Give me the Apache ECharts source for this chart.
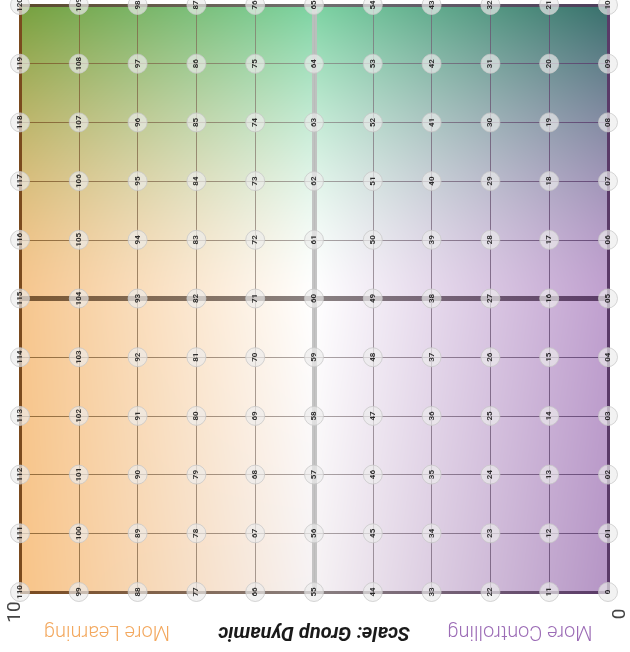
<!DOCTYPE html>
<html><head><meta charset="utf-8">
<script src="https://cdn.jsdelivr.net/npm/echarts@6/dist/echarts.min.js"></script>
<style>html,body{margin:0;padding:0;background:#fff}#c{width:630px;height:652px}</style>
</head><body><div id="c"></div>
<script>
// Scale values along each axis (0..10)
const xLevels = [0,1,2,3,4,5,6,7,8,9,10];
const yLevels = [0,1,2,3,4,5,6,7,8,9,10];
// Point labels, rows from y=10 (top) to y=0, columns from x=10 to x=0
const labelRows = [
  ['120','109','98','87','76','65','54','43','32','21','10'],
  ['119','108','97','86','75','64','53','42','31','20','09'],
  ['118','107','96','85','74','63','52','41','30','19','08'],
  ['117','106','95','84','73','62','51','40','29','18','07'],
  ['116','105','94','83','72','61','50','39','28','17','06'],
  ['115','104','93','82','71','60','49','38','27','16','05'],
  ['114','103','92','81','70','59','48','37','26','15','04'],
  ['113','102','91','80','69','58','47','36','25','14','03'],
  ['112','101','90','79','68','57','46','35','24','13','02'],
  ['111','100','89','78','67','56','45','34','23','12','01'],
  ['110','99','88','77','66','55','44','33','22','11','0']
];
const axisEndLabels = ['0','10'];
const titleText = 'Scale: Group Dynamic';
const leftPole = 'More Learning';
const rightPole = 'More Controlling';
const midValue = 5;

const points = [];
labelRows.forEach((row, r) => {
  row.forEach((lab, c) => {
    points.push([xLevels[xLevels.length - 1 - c], yLevels[yLevels.length - 1 - r], lab]);
  });
});

// background colour field (3x3 control colours, picture order)
const ctrl = [
  [[118,160,62],[124,211,162],[56,112,108]],
  [[246,198,142],[255,255,255],[192,160,207]],
  [[248,196,136],[246,242,244],[181,149,197]]
];
function makeBg(w, h) {
  const cv = document.createElement('canvas'); cv.width = w; cv.height = h;
  const ctx = cv.getContext('2d'); const img = ctx.createImageData(w, h);
  for (let y = 0; y < h; y++) {
    const v = y / (h - 1) * 2; const j = Math.min(Math.floor(v), 1); let fv = v - j;
    if (j === 0) fv = 1 - Math.pow(1 - fv, 1.6);
    for (let x = 0; x < w; x++) {
      const u = x / (w - 1) * 2; const i = Math.min(Math.floor(u), 1); const fu = u - i;
      const k = (y * w + x) * 4;
      for (let ch = 0; ch < 3; ch++) {
        const a = ctrl[j][i][ch] * (1 - fu) + ctrl[j][i + 1][ch] * fu;
        const b = ctrl[j + 1][i][ch] * (1 - fu) + ctrl[j + 1][i + 1][ch] * fu;
        img.data[k + ch] = Math.round(a * (1 - fv) + b * fv);
      }
      img.data[k + 3] = 255;
    }
  }
  ctx.putImageData(img, 0, 0);
  return cv;
}

const G = echarts.graphic;
const L = 20, R = 608, T = 5, B = 592;
const gridGrad = new G.LinearGradient(L, 0, R, 0, [
  {offset: 0, color: 'rgba(125,85,35,0.8)'},
  {offset: 0.5, color: 'rgba(130,120,120,0.65)'},
  {offset: 1, color: 'rgba(90,60,110,0.85)'}
], true);
const midGrad = new G.LinearGradient(L, 0, R, 0, [
  {offset: 0, color: '#7a5630'},
  {offset: 0.5, color: '#8a8282'},
  {offset: 1, color: '#5a3a66'}
], true);
const bottomGrad = new G.LinearGradient(L, 0, R, 0, [
  {offset: 0, color: '#7a4a1e'},
  {offset: 0.5, color: '#8a8080'},
  {offset: 1, color: '#5a3a68'}
], true);
const topGrad = new G.LinearGradient(L, 0, R, 0, [
  {offset: 0, color: '#5c4a2c'},
  {offset: 0.5, color: '#707070'},
  {offset: 1, color: '#4c3c5a'}
], true);

const chart = echarts.init(document.getElementById('c'));
chart.setOption({
  animation: false,
  grid: {left: L, right: 630 - R, top: T, bottom: 652 - B},
  xAxis: {type: 'value', min: xLevels[0], max: xLevels[xLevels.length - 1], interval: 1, inverse: true,
    axisLine: {show: false}, axisTick: {show: false}, axisLabel: {show: false},
    splitLine: {show: true, lineStyle: {color: gridGrad, width: 1}}},
  yAxis: {type: 'value', min: yLevels[0], max: yLevels[yLevels.length - 1], interval: 1,
    axisLine: {show: false}, axisTick: {show: false}, axisLabel: {show: false},
    splitLine: {show: true, lineStyle: {color: gridGrad, width: 1}}},
  graphic: [
    {type: 'image', left: L, top: T, z: -10, style: {image: makeBg(R - L, B - T), width: R - L, height: B - T}},
    {type: 'text', x: 314, y: 632, rotation: Math.PI, z: 10,
      style: {text: titleText, font: 'italic bold 20px Roboto', fill: '#1a1a1a', textAlign: 'center', textVerticalAlign: 'middle'}},
    {type: 'text', x: 107, y: 631, rotation: Math.PI, z: 10,
      style: {text: leftPole, font: '300 20px Roboto', fill: '#f3a85e', textAlign: 'center', textVerticalAlign: 'middle'}},
    {type: 'text', x: 520, y: 631, rotation: Math.PI, z: 10,
      style: {text: rightPole, font: '300 20px Roboto', fill: '#9c6cb6', textAlign: 'center', textVerticalAlign: 'middle'}},
    {type: 'text', x: 620, y: 614, rotation: Math.PI / 2, z: 10,
      style: {text: axisEndLabels[0], font: '19px Roboto', fill: '#444', textAlign: 'center', textVerticalAlign: 'middle'}},
    {type: 'text', x: 15, y: 612, rotation: Math.PI / 2, z: 10,
      style: {text: axisEndLabels[1], font: '19px Roboto', fill: '#444', textAlign: 'center', textVerticalAlign: 'middle'}}
  ],
  series: [
    {type: 'scatter', data: [], z: 1, silent: true,
      markLine: {silent: true, symbol: 'none', label: {show: false}, animation: false,
        data: [
          {xAxis: midValue, lineStyle: {color: 'rgba(190,190,190,0.9)', width: 5, type: 'solid'}},
          {yAxis: midValue, lineStyle: {color: midGrad, width: 5, type: 'solid'}},
          {xAxis: xLevels[xLevels.length - 1], lineStyle: {color: '#7a4a1e', width: 3, type: 'solid'}},
          {xAxis: xLevels[0], lineStyle: {color: '#5a3a68', width: 3, type: 'solid'}},
          {yAxis: yLevels[0], lineStyle: {color: bottomGrad, width: 3, type: 'solid'}},
          {yAxis: yLevels[yLevels.length - 1], lineStyle: {color: topGrad, width: 3, type: 'solid'}}
        ]}},
    {type: 'scatter', z: 5, data: points, symbol: 'circle', symbolSize: 19,
      itemStyle: {color: 'rgba(236,236,236,0.85)', borderColor: 'rgba(200,200,200,0.95)', borderWidth: 1},
      label: {show: true, position: 'inside', rotate: 90, formatter: p => p.data[2],
        fontSize: 8, fontWeight: 'bold', color: '#000', fontFamily: 'Roboto'}}
  ]
});
</script></body></html>
